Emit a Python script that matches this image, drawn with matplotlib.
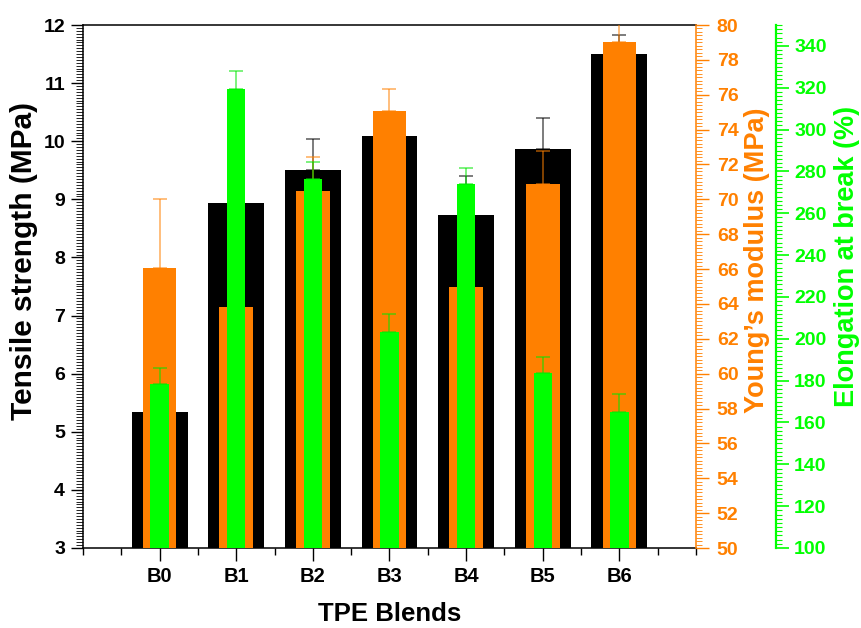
import numpy as np
import matplotlib
matplotlib.use("Agg")
import matplotlib.pyplot as plt
from matplotlib.ticker import MultipleLocator

plt.rcParams['font.family'] = ['Liberation Sans', 'DejaVu Sans']
plt.rcParams['font.weight'] = 'bold'

blends = ['B0', 'B1', 'B2', 'B3', 'B4', 'B5', 'B6']
tensile = [5.34, 8.93, 9.51, 10.09, 8.73, 9.87, 11.50]
tensile_err = [0.30, 0.40, 0.53, 0.30, 0.67, 0.53, 0.33]
modulus = [66.06, 63.83, 70.48, 75.07, 64.97, 70.88, 79.03]
modulus_err = [3.96, 1.50, 1.95, 1.26, 1.50, 1.90, 1.30]
elong = [178.4, 319.4, 276.4, 203.3, 274.0, 183.7, 165.0]
elong_err = [7.6, 8.6, 8.1, 8.6, 7.6, 7.6, 8.6]

ORANGE = '#FF8000'
GREEN = '#00FF00'

fig = plt.figure(figsize=(8.62, 6.28), dpi=100)
ax = fig.add_axes([83/862, 80/628, 613/862, 523/628])
ax2 = ax.twinx()
ax3 = ax.twinx()

x = np.arange(len(blends))
zeros = np.zeros(len(blends))

ax.bar(x, tensile, width=0.73, color='black', zorder=2)
ax.errorbar(x, tensile, yerr=[zeros, tensile_err], fmt='none',
            ecolor=(0, 0, 0, 0.6), elinewidth=1.2, capsize=5, capthick=1.2, zorder=3)

ax2.bar(x, modulus, width=0.44, color=ORANGE, zorder=2)
ax2.errorbar(x, modulus, yerr=[zeros, modulus_err], fmt='none',
             ecolor=(1.0, 0.5, 0.0, 0.6), elinewidth=1.2, capsize=5, capthick=1.2, zorder=3)

ax3.bar(x, elong, width=0.24, color=GREEN, zorder=2)
ax3.errorbar(x, elong, yerr=[zeros, elong_err], fmt='none',
             ecolor=(0.0, 0.9, 0.0, 0.6), elinewidth=1.2, capsize=5, capthick=1.2, zorder=3)

ax.set_xlim(-1, 7)
ax.set_ylim(3, 12)
ax2.set_ylim(50, 80)
ax3.set_ylim(100, 350)

# x axis
ax.set_xticks(x)
ax.set_xticklabels(blends, fontsize=14.5, fontweight='bold')
ax.xaxis.set_minor_locator(MultipleLocator(0.5))
ax.tick_params(axis='x', which='major', direction='out', length=9, width=1, pad=5, top=False)
ax.tick_params(axis='x', which='minor', direction='out', length=5, width=1, top=False)
ax.set_xlabel('TPE Blends', fontsize=18.5, fontweight='bold', labelpad=11)

# left axis
ax.yaxis.set_major_locator(MultipleLocator(1))
ax.yaxis.set_minor_locator(MultipleLocator(0.05))
ax.tick_params(axis='y', which='major', direction='out', length=9, width=1, pad=4, labelsize=14, right=False)
ax.tick_params(axis='y', which='minor', direction='out', length=5, width=0.6, right=False)
for lab in ax.get_yticklabels():
    lab.set_fontweight('bold')
ax.set_ylabel('Tensile strength (MPa)', fontsize=21.5, fontweight='bold')
ax.yaxis.set_label_coords(-0.073, 0.5497)
ax.spines['right'].set_visible(False)
for s in ['left', 'bottom', 'top']:
    ax.spines[s].set_linewidth(1.1)

# orange axis
for s in ['left', 'bottom', 'top']:
    ax2.spines[s].set_visible(False)
ax2.spines['right'].set_color(ORANGE)
ax2.spines['right'].set_linewidth(1.1)
ax2.yaxis.set_major_locator(MultipleLocator(2))
ax2.yaxis.set_minor_locator(MultipleLocator(0.2))
ax2.tick_params(axis='y', which='major', direction='out', length=9, width=1, pad=6,
                colors=ORANGE, labelsize=14)
ax2.tick_params(axis='y', which='minor', direction='out', length=4, width=0.6, colors=ORANGE)
for lab in ax2.get_yticklabels():
    lab.set_fontweight('bold')
ax2.set_ylabel('Young\u2019s modulus (MPa)', fontsize=19.5, fontweight='bold', color=ORANGE)
ax2.yaxis.set_label_coords(1.0785, 0.551)

# green axis
for s in ['left', 'bottom', 'top']:
    ax3.spines[s].set_visible(False)
ax3.spines['right'].set_position(('axes', 1 + 80/613))
ax3.spines['right'].set_color(GREEN)
ax3.spines['right'].set_linewidth(1.6)
ax3.yaxis.set_major_locator(MultipleLocator(20))
ax3.yaxis.set_minor_locator(MultipleLocator(2))
ax3.tick_params(axis='y', which='major', direction='out', length=9, width=1.2, pad=4,
                colors=GREEN, labelsize=14)
ax3.tick_params(axis='y', which='minor', direction='out', length=4, width=0.8, colors=GREEN)
ax3.set_yticks(np.arange(100, 341, 20))
for lab in ax3.get_yticklabels():
    lab.set_fontweight('bold')
ax3.set_ylabel('Elongation at break (%)', fontsize=19.5, fontweight='bold', color=GREEN)
ax3.yaxis.set_label_coords(1.2255, 0.558)

fig.savefig('out.png', dpi=100)
